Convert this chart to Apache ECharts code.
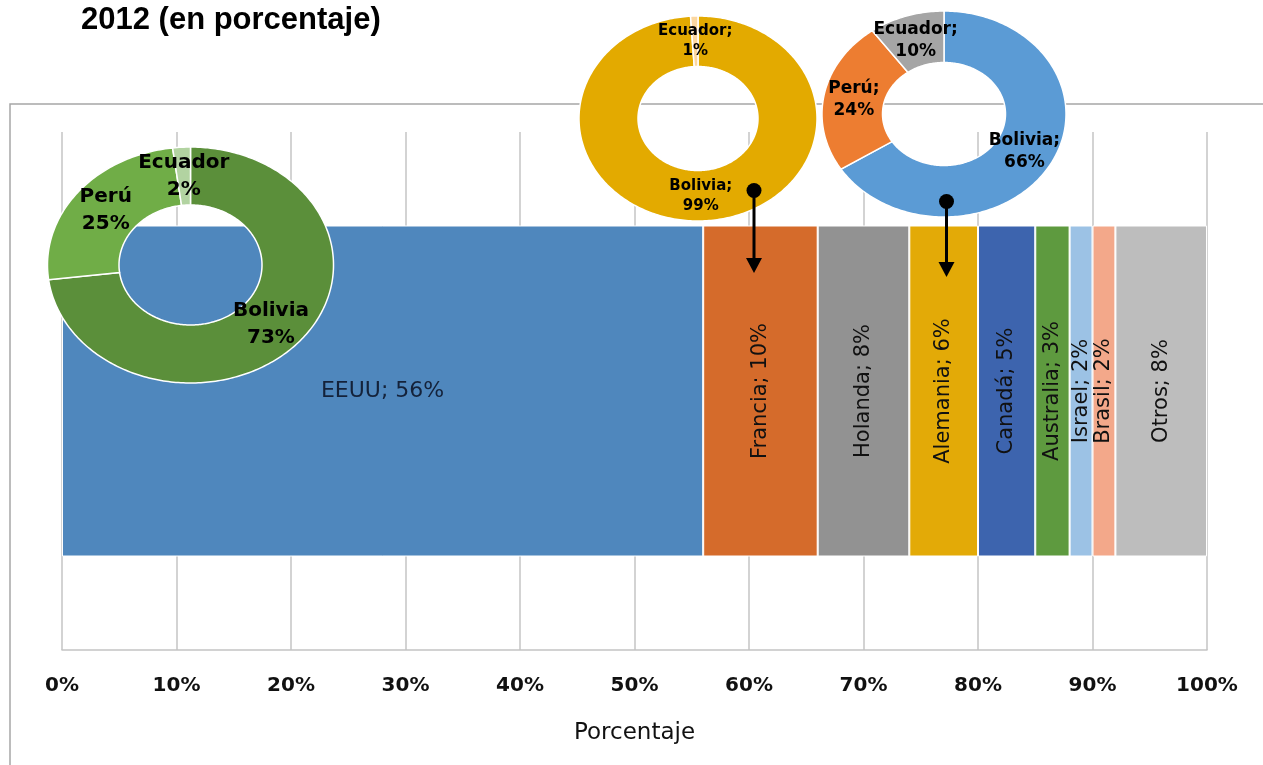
<!DOCTYPE html>
<html>
<head>
<meta charset="utf-8">
<script src="https://cdn.jsdelivr.net/npm/echarts@6/dist/echarts.min.js"></script>
<style>
  html, body { margin: 0; padding: 0; background: #fff; }
  #chart { width: 1263px; height: 765px; }
</style>
</head>
<body>
<div id="chart"></div>
<script>
// Destination countries and their share of the total (%)
const destinos = ['EEUU', 'Francia', 'Holanda', 'Alemania', 'Canadá', 'Australia', 'Israel', 'Brasil', 'Otros'];
const participacion = [56, 10, 8, 6, 5, 3, 2, 2, 8];

// Origin breakdown for the three highlighted markets (%)
const origenEEUUNombres = ['Bolivia', 'Perú', 'Ecuador'];
const origenEEUU = [73, 25, 2];
const origenFranciaNombres = ['Bolivia', 'Ecuador'];
const origenFrancia = [99, 1];
const origenAlemaniaNombres = ['Bolivia', 'Perú', 'Ecuador'];
const origenAlemania = [66, 24, 10];

// Axis ticks (percent)
const ejeMin = 0, ejeMax = 100, ejePaso = 10;

// ---- styles ----
const barColors = ['#4f87bd', '#d56b2b', '#929292', '#e3aa07', '#3d64ae', '#5e9a3f', '#9cc2e5', '#f3a88a', '#bdbdbd'];
const labelFont = 'DejaVu Sans';

const donutLayouts = [
  { names: origenEEUUNombres, values: origenEEUU, colors: ['#5b8f3a', '#70ad47', '#b2d3a1'],
    center: [190.5, 265], outer: [143, 118], inner: [71.5, 60], sep: '\n', fontSize: 20, lineHeight: 27 },
  { names: origenFranciaNombres, values: origenFrancia, colors: ['#e3aa00', '#fcd7a0'],
    center: [698, 118.5], outer: [119, 102.5], inner: [60, 52], sep: ';\n', fontSize: 15, lineHeight: 20 },
  { names: origenAlemaniaNombres, values: origenAlemania, colors: ['#5b9bd5', '#ed7d31', '#a5a5a5'],
    center: [944, 114], outer: [122, 103], inner: [61.5, 51.5], sep: ';\n', fontSize: 17, lineHeight: 22 }
];

// elliptical ring sector, angles clockwise from 12 o'clock
function ringSector(c, ro, ri, a0, a1) {
  const pts = [];
  const n = Math.max(2, Math.ceil((a1 - a0) / (Math.PI / 180)));
  for (let i = 0; i <= n; i++) {
    const a = a0 + (a1 - a0) * i / n;
    pts.push([c[0] + ro[0] * Math.sin(a), c[1] - ro[1] * Math.cos(a)]);
  }
  for (let i = n; i >= 0; i--) {
    const a = a0 + (a1 - a0) * i / n;
    pts.push([c[0] + ri[0] * Math.sin(a), c[1] - ri[1] * Math.cos(a)]);
  }
  return pts;
}

function donutSeries(d) {
  const total = d.values.reduce((s, v) => s + v, 0);
  const starts = [];
  let acc = 0;
  d.values.forEach(v => { starts.push(acc); acc += v; });
  return {
    type: 'custom',
    coordinateSystem: 'none',
    z: 5,
    silent: true,
    data: d.values,
    renderItem: function (params, api) {
      const i = params.dataIndex;
      const v = api.value(0);
      const a0 = starts[i] / total * Math.PI * 2;
      const a1 = (starts[i] + v) / total * Math.PI * 2;
      const am = (a0 + a1) / 2;
      const mr = [(d.outer[0] + d.inner[0]) / 2, (d.outer[1] + d.inner[1]) / 2];
      return {
        type: 'group',
        children: [
          {
            type: 'polygon',
            shape: { points: ringSector(d.center, d.outer, d.inner, a0, a1) },
            style: { fill: d.colors[i], stroke: '#ffffff', lineWidth: 1.5 }
          },
          {
            type: 'text',
            z2: 20,
            style: {
              text: d.names[i] + d.sep + v + '%',
              x: d.center[0] + mr[0] * Math.sin(am),
              y: d.center[1] - mr[1] * Math.cos(am),
              align: 'center',
              verticalAlign: 'middle',
              fontFamily: labelFont,
              fontWeight: 'bold',
              fontSize: d.fontSize,
              lineHeight: d.lineHeight,
              fill: '#000'
            }
          }
        ]
      };
    }
  };
}

const barSeries = destinos.map((name, i) => ({
  name: name,
  type: 'bar',
  stack: 'total',
  barWidth: 331,
  data: [participacion[i]],
  itemStyle: { color: barColors[i], borderColor: '#ffffff', borderWidth: 1 },
  label: {
    show: true,
    position: 'inside',
    rotate: i === 0 ? 0 : 90,
    formatter: p => p.seriesName + '; ' + p.value + '%',
    fontFamily: labelFont,
    fontSize: i === 0 ? 22 : 21,
    color: i === 0 ? '#14223a' : '#111'
  },
  z: 2
}));

// marker arrows linking the donuts to their bar segments
function arrow(x, yDot, yTip) {
  return {
    type: 'group',
    children: [
      { type: 'line', z: 100, shape: { x1: x, y1: yDot, x2: x, y2: yTip - 12 }, style: { stroke: '#000', lineWidth: 3 } },
      { type: 'polygon', z: 100, shape: { points: [[x - 8, yTip - 15], [x + 8, yTip - 15], [x, yTip]] }, style: { fill: '#000' } },
      { type: 'circle', z: 100, shape: { cx: x, cy: yDot, r: 7.5 }, style: { fill: '#000' } }
    ]
  };
}

const chart = echarts.init(document.getElementById('chart'), null, { renderer: 'canvas' });
chart.setOption({
  animation: false,
  backgroundColor: '#ffffff',
  title: {
    text: '2012 (en porcentaje)',
    left: 76,
    top: 0,
    textStyle: { fontFamily: 'Liberation Sans', fontSize: 31, fontWeight: 'bold', color: '#000' }
  },
  graphic: [
    {
      type: 'rect',
      z: -10,
      silent: true,
      shape: { x: 10, y: 104, width: 1400, height: 800 },
      style: { fill: 'none', stroke: '#a6a6a6', lineWidth: 1.5 }
    },
    arrow(754, 190.5, 273),
    arrow(946.5, 201.5, 277)
  ],
  grid: { left: 62, right: 56, top: 132, bottom: 115 },
  xAxis: {
    type: 'value',
    min: ejeMin,
    max: ejeMax,
    interval: ejePaso,
    axisLine: { show: true, lineStyle: { color: '#c4c4c4', width: 1.5 } },
    axisTick: { show: false },
    splitLine: { show: true, lineStyle: { color: '#c4c4c4', width: 1.5 } },
    axisLabel: {
      formatter: '{value}%',
      margin: 26,
      fontFamily: labelFont,
      fontWeight: 'bold',
      fontSize: 20,
      color: '#111'
    },
    name: 'Porcentaje',
    nameLocation: 'middle',
    nameGap: 72,
    nameTextStyle: { fontFamily: labelFont, fontSize: 23, color: '#111' }
  },
  yAxis: {
    type: 'category',
    data: ['2012'],
    show: false
  },
  series: barSeries.concat(donutLayouts.map(donutSeries))
});
</script>
</body>
</html>
